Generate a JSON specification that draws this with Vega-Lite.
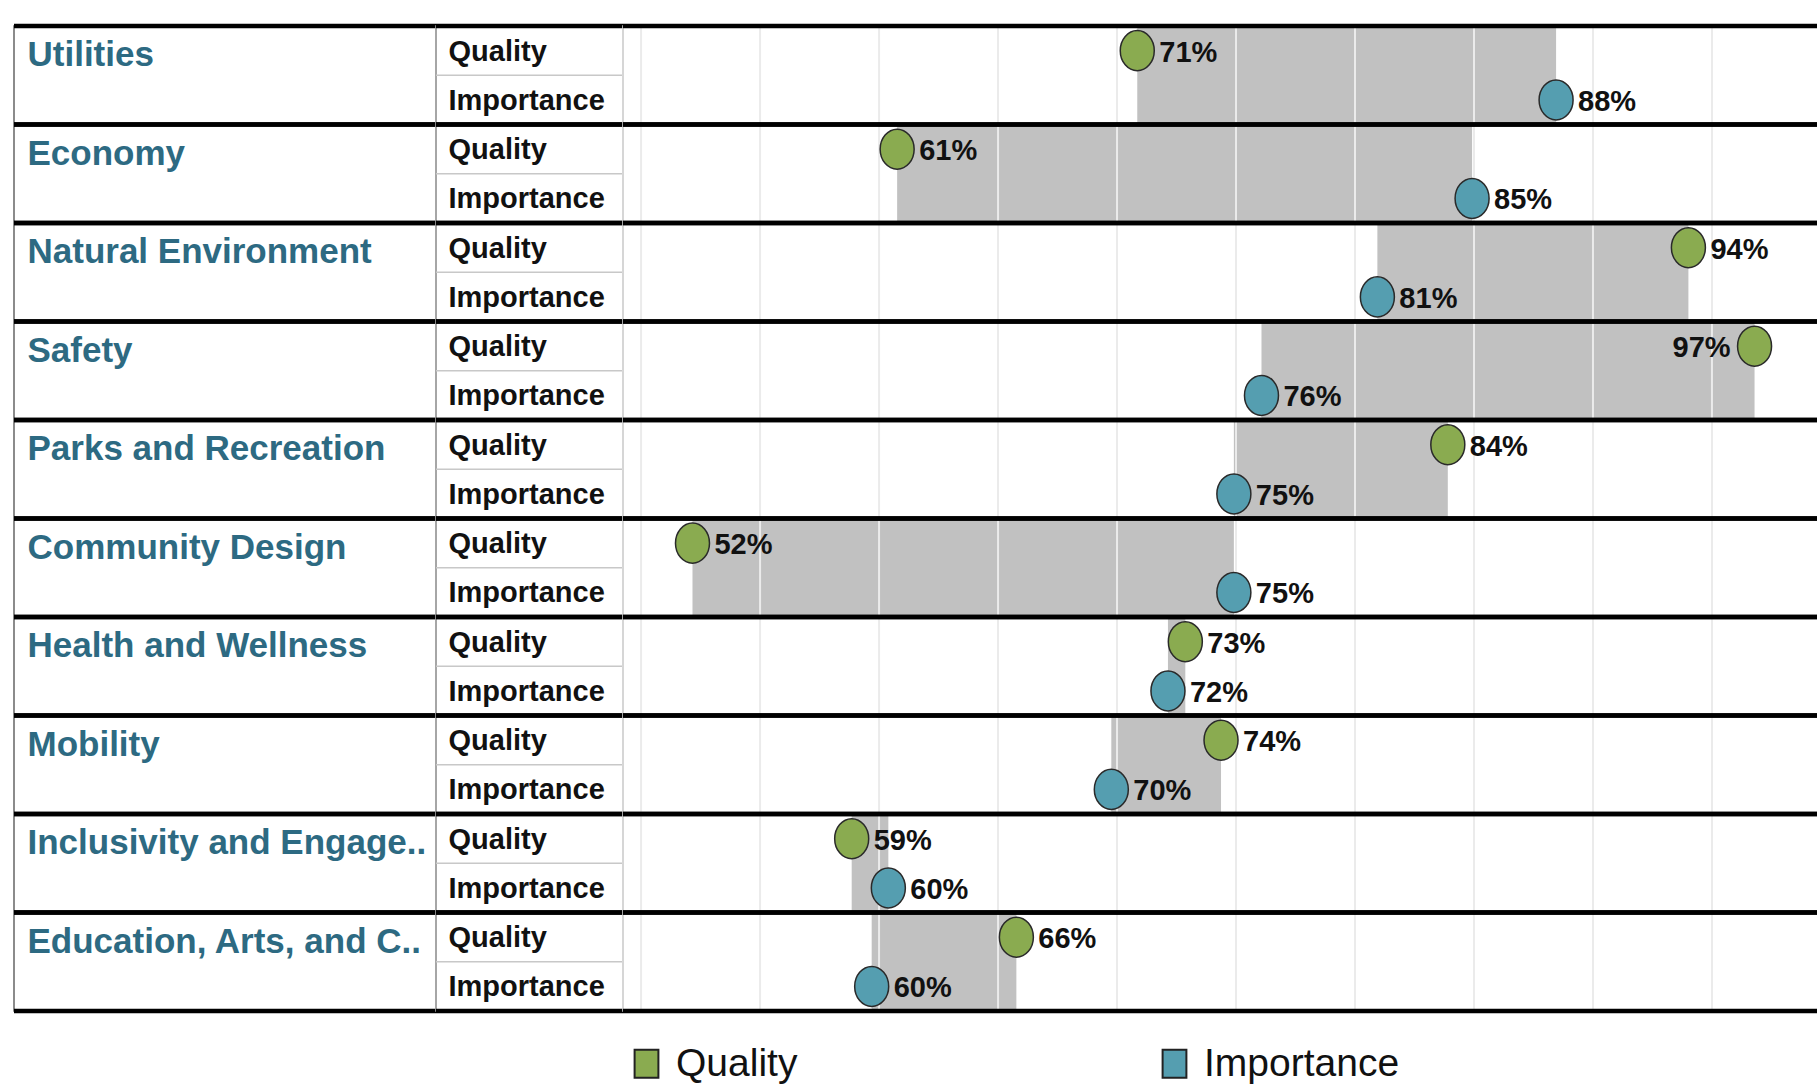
{
  "$schema": "https://vega.github.io/schema/vega-lite/v6.json",
  "padding": {"left": 11, "top": 23, "right": 0, "bottom": 0},
  "background": "white",
  "bounds": "flush",
  "spacing": 0,
  "datasets": {
    "scores": [
      {"category": "Utilities", "measure": "Quality", "value": 0.7085},
      {"category": "Utilities", "measure": "Importance", "value": 0.8845},
      {"category": "Economy", "measure": "Quality", "value": 0.6076},
      {"category": "Economy", "measure": "Importance", "value": 0.8492},
      {"category": "Natural Environment", "measure": "Quality", "value": 0.9401},
      {"category": "Natural Environment", "measure": "Importance", "value": 0.8094},
      {"category": "Safety", "measure": "Quality", "value": 0.9679},
      {"category": "Safety", "measure": "Importance", "value": 0.7607},
      {"category": "Parks and Recreation", "measure": "Quality", "value": 0.8390},
      {"category": "Parks and Recreation", "measure": "Importance", "value": 0.7491},
      {"category": "Community Design", "measure": "Quality", "value": 0.5216},
      {"category": "Community Design", "measure": "Importance", "value": 0.7491},
      {"category": "Health and Wellness", "measure": "Quality", "value": 0.7287},
      {"category": "Health and Wellness", "measure": "Importance", "value": 0.7214},
      {"category": "Mobility", "measure": "Quality", "value": 0.7437},
      {"category": "Mobility", "measure": "Importance", "value": 0.6976},
      {"category": "Inclusivity and Engage..", "measure": "Quality", "value": 0.5885},
      {"category": "Inclusivity and Engage..", "measure": "Importance", "value": 0.6039},
      {"category": "Education, Arts, and C..", "measure": "Quality", "value": 0.6577},
      {"category": "Education, Arts, and C..", "measure": "Importance", "value": 0.5969}
    ],
    "grid": [
      {"tick": 0.50}, {"tick": 0.55}, {"tick": 0.60}, {"tick": 0.65}, {"tick": 0.70},
      {"tick": 0.75}, {"tick": 0.80}, {"tick": 0.85}, {"tick": 0.90}, {"tick": 0.95}
    ]
  },
  "hconcat": [
    {
      "width": 422,
      "height": 985,
      "view": {"stroke": "#666666", "strokeWidth": 1.5},
      "data": {"name": "scores"},
      "transform": [{"filter": "datum.measure === 'Quality'"}],
      "layer": [
        {
          "mark": {"type": "rule", "color": "#000000", "strokeWidth": 4.5},
          "encoding": {
            "y": {
              "field": "category", "type": "nominal", "sort": null, "bandPosition": 0,
              "scale": {"type": "band", "paddingInner": 0, "paddingOuter": 0},
              "axis": {
                "title": null, "domain": false, "ticks": false, "grid": false,
                "labelAlign": "left", "labelPadding": -13,
                "labelBaseline": "alphabetic", "labelOffset": -9,
                "labelFont": "Liberation Sans", "labelFontWeight": "bold",
                "labelFontSize": 35, "labelColor": "#2D6A82", "labelLimit": 420
              }
            }
          }
        },
        {
          "mark": {"type": "rule", "color": "#000000", "strokeWidth": 4.5},
          "encoding": {
            "y": {"field": "category", "type": "nominal", "sort": null, "bandPosition": 1}
          }
        }
      ]
    },
    {
      "width": 187,
      "height": 985,
      "view": {"stroke": "#b0b0b0", "strokeWidth": 1.5},
      "data": {"name": "scores"},
      "transform": [{"calculate": "datum.category + '|' + datum.measure", "as": "row"}],
      "resolve": {"scale": {"y": "independent"}, "axis": {"y": "independent"}},
      "layer": [
        {
          "mark": {"type": "rule", "color": "#c8c8c8", "strokeWidth": 1.5},
          "encoding": {
            "y": {
              "field": "row", "type": "nominal", "sort": null, "bandPosition": 0,
              "scale": {"type": "band", "paddingInner": 0, "paddingOuter": 0},
              "axis": {
                "title": null, "domain": false, "ticks": false, "grid": false,
                "labelExpr": "split(datum.value, '|')[1]",
                "labelAlign": "left", "labelPadding": -12,
                "labelBaseline": "middle", "labelOffset": 1,
                "labelFont": "Liberation Sans", "labelFontWeight": "bold",
                "labelFontSize": 29, "labelColor": "#111111", "labelLimit": 200
              }
            }
          }
        },
        {
          "transform": [{"filter": "datum.measure === 'Quality'"}],
          "layer": [
            {
              "mark": {"type": "rule", "color": "#000000", "strokeWidth": 4.5},
              "encoding": {
                "y": {"field": "category", "type": "nominal", "sort": null, "bandPosition": 0,
                      "scale": {"type": "band", "paddingInner": 0, "paddingOuter": 0}, "axis": null}
              }
            },
            {
              "mark": {"type": "rule", "color": "#000000", "strokeWidth": 4.5},
              "encoding": {
                "y": {"field": "category", "type": "nominal", "sort": null, "bandPosition": 1, "axis": null}
              }
            }
          ]
        }
      ]
    },
    {
      "width": 1197,
      "height": 985,
      "view": {"stroke": "#dddddd", "strokeWidth": 1.5},
      "layer": [
        {
          "data": {"name": "scores"},
          "transform": [
            {"joinaggregate": [{"op": "min", "field": "value", "as": "lo"}, {"op": "max", "field": "value", "as": "hi"}], "groupby": ["category"]},
            {"filter": "datum.measure === 'Quality'"}
          ],
          "mark": {"type": "rect", "color": "#c1c1c1"},
          "encoding": {
            "x": {"field": "lo", "type": "quantitative", "scale": {"domain": [0.4924, 0.9954], "nice": false, "zero": false}, "axis": null},
            "x2": {"field": "hi"},
            "y": {"field": "category", "type": "nominal", "sort": null, "scale": {"type": "band", "paddingInner": 0, "paddingOuter": 0}, "axis": null}
          }
        },
        {
          "data": {"name": "grid"},
          "mark": {"type": "rule", "color": "#ebebeb", "strokeWidth": 2},
          "encoding": {
            "x": {"field": "tick", "type": "quantitative"}
          }
        },
        {
          "data": {"name": "scores"},
          "transform": [{"filter": "datum.measure === 'Quality'"}],
          "mark": {"type": "rule", "color": "#000000", "strokeWidth": 4.5},
          "encoding": {
            "y": {"field": "category", "type": "nominal", "sort": null, "bandPosition": 0}
          }
        },
        {
          "data": {"name": "scores"},
          "transform": [{"filter": "datum.measure === 'Quality'"}],
          "mark": {"type": "rule", "color": "#000000", "strokeWidth": 4.5},
          "encoding": {
            "y": {"field": "category", "type": "nominal", "sort": null, "bandPosition": 1}
          }
        },
        {
          "data": {"name": "scores"},
          "mark": {
            "type": "point", "filled": true, "opacity": 1,
            "shape": "M-0.85,0A0.85,1,0,1,1,0.85,0A0.85,1,0,1,1,-0.85,0Z",
            "size": 1600, "stroke": "#2a2a2a", "strokeWidth": 1.5
          },
          "encoding": {
            "x": {"field": "value", "type": "quantitative"},
            "y": {"field": "category", "type": "nominal", "sort": null},
            "yOffset": {"field": "measure", "type": "nominal", "sort": ["Quality", "Importance"], "scale": {"type": "band", "paddingInner": 0, "paddingOuter": 0}},
            "color": {
              "field": "measure", "type": "nominal",
              "scale": {"domain": ["Quality", "Importance"], "range": ["#8AAB50", "#559EB0"]},
              "legend": {
                "title": null, "orient": "none", "legendX": 613, "legendY": 1018,
                "direction": "horizontal", "padding": 0, "columnPadding": 357,
                "symbolType": "M-0.85,-1H0.85V1H-0.85Z", "symbolSize": 784,
                "symbolStrokeColor": "#222222", "symbolStrokeWidth": 2,
                "labelFont": "Liberation Sans", "labelFontSize": 39, "labelColor": "#111111",
                "labelOffset": 10, "labelLimit": 400
              }
            }
          }
        },
        {
          "data": {"name": "scores"},
          "transform": [{"filter": "datum.value < 0.96"}],
          "mark": {"type": "text", "align": "left", "baseline": "middle", "dx": 22, "dy": 2,
                   "font": "Liberation Sans", "fontWeight": "bold", "fontSize": 29, "color": "#111111"},
          "encoding": {
            "x": {"field": "value", "type": "quantitative"},
            "y": {"field": "category", "type": "nominal", "sort": null},
            "yOffset": {"field": "measure", "type": "nominal", "sort": ["Quality", "Importance"]},
            "text": {"field": "value", "type": "quantitative", "format": ".0%"}
          }
        },
        {
          "data": {"name": "scores"},
          "transform": [{"filter": "datum.value >= 0.96"}],
          "mark": {"type": "text", "align": "right", "baseline": "middle", "dx": -24, "dy": 2,
                   "font": "Liberation Sans", "fontWeight": "bold", "fontSize": 29, "color": "#111111"},
          "encoding": {
            "x": {"field": "value", "type": "quantitative"},
            "y": {"field": "category", "type": "nominal", "sort": null},
            "yOffset": {"field": "measure", "type": "nominal", "sort": ["Quality", "Importance"]},
            "text": {"field": "value", "type": "quantitative", "format": ".0%"}
          }
        }
      ]
    }
  ],
  "config": {
    "concat": {"spacing": 0},
    "axis": {"grid": false}
  }
}
